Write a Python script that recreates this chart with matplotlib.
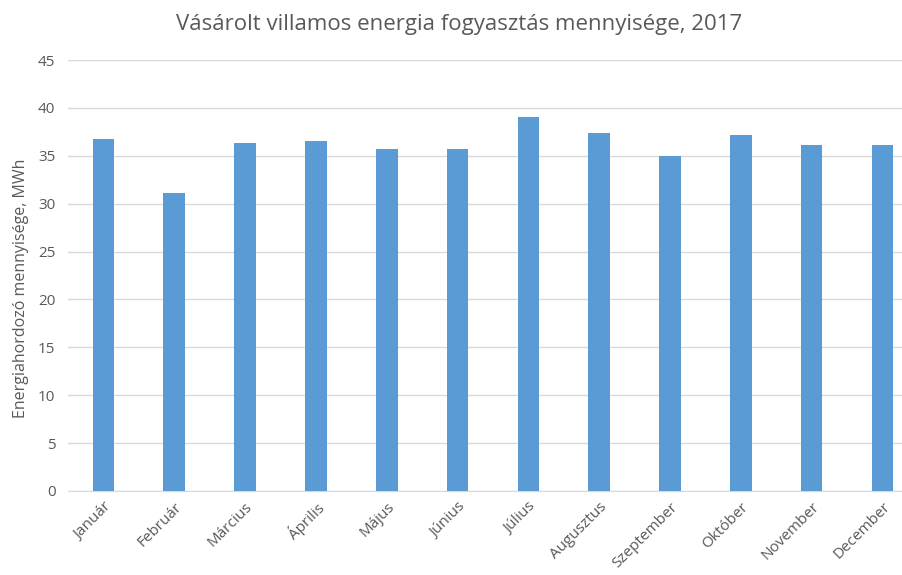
import matplotlib.pyplot as plt

honapok = ['Január', 'Február', 'Március', 'Április', 'Május', 'Június',
           'Július', 'Augusztus', 'Szeptember', 'Október', 'November', 'December']
fogyasztas = [36.8, 31.1, 36.3, 36.5, 35.7, 35.7, 39.1, 37.4, 35.0, 37.2, 36.1, 36.1]

plt.rcParams['font.family'] = ['Open Sans', 'DejaVu Sans']

fig = plt.figure(figsize=(9.03, 5.75), dpi=100)
ax = fig.add_axes([68 / 903, 84 / 575, 1 - 68 / 903, 431 / 575])

x = range(len(honapok))
ax.bar(x, fogyasztas, width=0.305, color='#5B9BD5', zorder=3)

ax.set_ylim(0, 45)
ax.set_yticks(range(0, 46, 5))
ax.set_xlim(-0.5, 11.29)
ax.set_xticks(list(x))
ax.set_xticklabels(honapok, rotation=45, ha='right', rotation_mode='anchor')

ax.grid(axis='y', color='#D9D9D9', linewidth=1, zorder=0)
for s in ['top', 'right', 'left']:
    ax.spines[s].set_visible(False)
ax.spines['bottom'].set_color('#D9D9D9')
ax.tick_params(axis='both', length=0, colors='#595959', labelsize=11)
ax.tick_params(axis='y', pad=9)
ax.tick_params(axis='x', pad=6)

ax.set_ylabel('Energiahordozó mennyisége, MWh', color='#595959', fontsize=11.5)
ax.yaxis.set_label_coords(-0.0467, 0.47)
fig.suptitle('Vásárolt villamos energia fogyasztás mennyisége, 2017',
             x=0.508, y=0.975, fontsize=16, color='#595959')

fig.savefig('out.png', dpi=100)
